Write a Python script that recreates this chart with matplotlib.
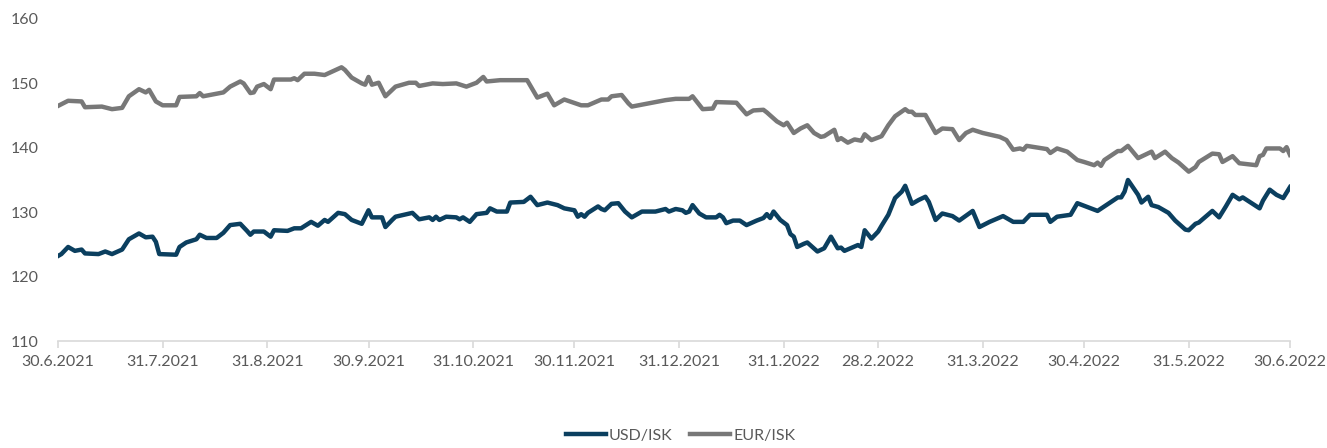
import matplotlib
matplotlib.use("Agg")
from matplotlib import pyplot as plt
import matplotlib.dates as mdates
import pandas as pd

start = pd.Timestamp("2021-06-30")

# days after 30.6.2021 and rates
usd_days = [0, 1, 3, 5, 7, 8, 12, 14, 16, 19, 21, 24, 26, 28, 29, 30, 35, 36, 38, 41,
            42, 44, 47, 49, 51, 54, 56, 57, 58, 61, 63, 64, 68, 70, 72, 75, 77, 79, 80, 83,
            85, 87, 90, 92, 93, 96, 97, 99, 100, 105, 107, 110, 111, 112, 113, 115, 118, 119, 120, 122,
            124, 127, 128, 130, 133, 134, 138, 140, 142, 145, 148, 150, 153, 154, 155, 156, 157, 160, 161, 162,
            164, 166, 168, 170, 173, 177, 180, 181, 183, 185, 186, 187, 188, 190, 192, 195, 196, 197, 198, 200,
            202, 204, 207, 209, 210, 211, 212, 214, 216, 217, 218, 219, 221, 222, 225, 227, 229, 231, 232, 233,
            237, 238, 239, 241, 243, 244, 246, 248, 250, 251, 253, 255, 257, 258, 260, 262, 265, 267, 271, 273,
            276, 280, 283, 286, 288, 293, 294, 296, 300, 302, 306, 308, 310, 314, 315, 316, 317, 320, 321, 323,
            324, 326, 329, 331, 334, 335, 337, 338, 342, 344, 346, 348, 350, 351, 356, 357, 359, 361, 363, 365]
usd = [123.2, 123.5, 124.6, 124.0, 124.2, 123.6, 123.5, 123.9, 123.5, 124.2, 125.8, 126.7, 126.1, 126.2, 125.4, 123.5, 123.4, 124.6, 125.3, 125.8,
       126.5, 126.0, 126.0, 126.8, 128.0, 128.2, 127.1, 126.5, 127.0, 127.0, 126.2, 127.2, 127.1, 127.5, 127.5, 128.5, 127.9, 128.8, 128.5, 129.9,
       129.7, 128.8, 128.2, 130.3, 129.2, 129.2, 127.7, 128.8, 129.3, 129.9, 128.9, 129.2, 128.8, 129.3, 128.8, 129.3, 129.2, 128.9, 129.2, 128.5,
       129.7, 129.9, 130.6, 130.1, 130.1, 131.5, 131.6, 132.4, 131.1, 131.5, 131.1, 130.6, 130.3, 129.3, 129.7, 129.3, 129.9, 130.9, 130.5, 130.3,
       131.3, 131.4, 130.1, 129.2, 130.1, 130.1, 130.5, 130.1, 130.5, 130.3, 129.9, 130.1, 131.1, 129.8, 129.2, 129.2, 129.6, 129.2, 128.3, 128.7,
       128.7, 128.0, 128.7, 129.1, 129.7, 129.1, 130.1, 128.8, 128.0, 126.6, 126.2, 124.6, 125.1, 125.3, 123.9, 124.4, 126.2, 124.4, 124.5, 124.0,
       124.9, 124.6, 127.2, 125.9, 127.0, 127.9, 129.6, 132.2, 133.2, 134.1, 131.3, 131.9, 132.4, 131.6, 128.8, 129.8, 129.4, 128.7, 130.2, 127.7,
       128.5, 129.4, 128.5, 128.5, 129.6, 129.6, 128.5, 129.3, 129.6, 131.4, 130.6, 130.2, 130.9, 132.3, 132.3, 133.2, 135.0, 132.7, 131.5, 132.4,
       131.1, 130.8, 129.9, 128.7, 127.3, 127.2, 128.2, 128.4, 130.2, 129.2, 130.9, 132.7, 132.0, 132.3, 130.6, 131.8, 133.5, 132.7, 132.2, 133.9]

eur_days = [0, 3, 7, 8, 13, 16, 19, 21, 24, 26, 27, 29, 31, 35, 36, 41, 42, 43, 49, 51,
            54, 55, 57, 58, 59, 61, 63, 64, 69, 70, 71, 73, 76, 79, 84, 85, 87, 90, 91, 92,
            93, 95, 97, 100, 104, 106, 107, 111, 114, 118, 121, 124, 126, 127, 131, 139, 142, 145, 147, 150,
            155, 157, 161, 163, 164, 167, 169, 170, 175, 180, 183, 187, 188, 191, 194, 195, 201, 204, 206, 209,
            210, 213, 215, 216, 218, 220, 222, 224, 226, 227, 230, 231, 232, 234, 236, 238, 239, 241, 244, 246,
            248, 251, 252, 253, 254, 257, 260, 262, 265, 267, 269, 271, 274, 279, 281, 283, 285, 286, 287, 293,
            294, 296, 299, 302, 304, 307, 308, 309, 310, 314, 315, 317, 320, 324, 325, 328, 330, 332, 335, 337,
            338, 342, 344, 345, 348, 350, 355, 356, 357, 358, 362, 363, 364, 365]
eur = [146.5, 147.3, 147.2, 146.3, 146.4, 146.0, 146.2, 148.0, 149.1, 148.6, 149.0, 147.2, 146.6, 146.6, 147.9, 148.0, 148.5, 148.0, 148.6, 149.5,
       150.3, 150.0, 148.5, 148.6, 149.5, 149.9, 149.1, 150.6, 150.6, 150.8, 150.5, 151.5, 151.5, 151.3, 152.5, 152.1, 150.9, 150.0, 149.8, 151.0,
       149.8, 150.1, 148.0, 149.5, 150.1, 150.1, 149.6, 150.0, 149.9, 150.0, 149.5, 150.1, 151.0, 150.3, 150.5, 150.5, 147.8, 148.4, 146.6, 147.5,
       146.6, 146.6, 147.5, 147.5, 148.0, 148.2, 146.9, 146.4, 146.9, 147.4, 147.6, 147.6, 148.0, 146.0, 146.1, 147.1, 147.0, 145.2, 145.8, 145.9,
       145.5, 144.1, 143.5, 143.9, 142.3, 143.0, 143.5, 142.3, 141.7, 141.8, 142.8, 141.2, 141.5, 140.8, 141.3, 141.1, 142.1, 141.2, 141.8, 143.5,
       144.9, 146.0, 145.6, 145.6, 145.1, 145.1, 142.3, 143.0, 142.9, 141.2, 142.3, 142.8, 142.3, 141.7, 141.2, 139.7, 139.9, 139.7, 140.3, 139.8,
       139.2, 139.9, 139.4, 138.1, 137.8, 137.3, 137.7, 137.2, 138.1, 139.5, 139.5, 140.3, 138.4, 139.4, 138.4, 139.4, 138.4, 137.7, 136.3, 137.0,
       137.8, 139.1, 139.0, 137.8, 138.7, 137.6, 137.3, 138.7, 138.9, 139.9, 139.9, 139.5, 140.1, 138.9]

tick_dates = pd.date_range("2021-06-30", "2022-06-30", freq="ME")

usd_dates = start + pd.to_timedelta(usd_days, unit="D")
eur_dates = start + pd.to_timedelta(eur_days, unit="D")

plt.rcParams['font.family'] = ['Lato', 'DejaVu Sans']
txt = '#595959'

fig = plt.figure(figsize=(13.27, 4.48), dpi=100)
ax = fig.add_axes([0.0437, 0.2388, 0.9284, 0.7188])

ax.plot(usd_dates, usd, color='#0B3F5F', lw=3.2, solid_joinstyle='round', label='USD/ISK')
ax.plot(eur_dates, eur, color='#787878', lw=3.2, solid_joinstyle='round', label='EUR/ISK')

ax.set_ylim(110, 160)
ax.set_yticks([110, 120, 130, 140, 150, 160])
ax.set_xlim(tick_dates[0], tick_dates[-1])
ax.set_xticks(tick_dates)
ax.set_xticklabels([f"{d.day}.{d.month}.{d.year}" for d in tick_dates])

for s in ['top', 'right', 'left']:
    ax.spines[s].set_visible(False)
ax.spines['bottom'].set_color('#d9d9d9')
ax.spines['bottom'].set_linewidth(1.2)
ax.tick_params(axis='x', colors='#d9d9d9', length=5, width=1.2, labelcolor=txt,
               labelsize=11.5, pad=5)
ax.tick_params(axis='y', length=0, labelcolor=txt, labelsize=11.5, pad=14)

fig.legend(loc='lower center', bbox_to_anchor=(0.513, -0.02), ncol=2, frameon=False,
           fontsize=11.5, labelcolor=txt, handlelength=2.5, handletextpad=0.2,
           columnspacing=1.1)

fig.savefig('out.png', dpi=100)
